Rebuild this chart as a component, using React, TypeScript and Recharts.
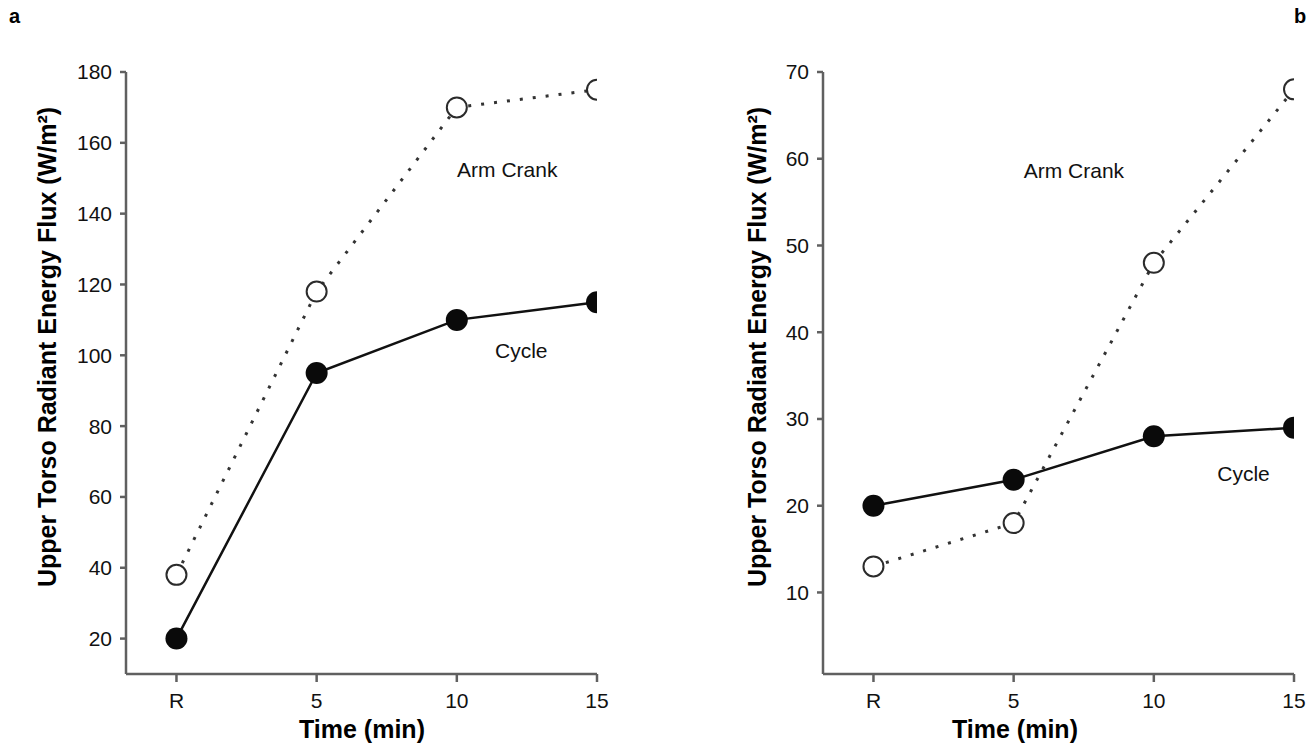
import React from "react";
import {
  LineChart,
  Line,
  XAxis,
  YAxis,
  Label,
  ReferenceDot,
} from "recharts";

const timeLabels = ["R", "5", "10", "15"];

const armCrankA = [38, 118, 170, 175];
const cycleA = [20, 95, 110, 115];
const ticksA = [20, 40, 60, 80, 100, 120, 140, 160, 180];

const armCrankB = [13, 18, 48, 68];
const cycleB = [20, 23, 28, 29];
const ticksB = [10, 20, 30, 40, 50, 60, 70];

const FONT = "'Liberation Sans', Arial, sans-serif";
const AXIS_COLOR = "#606060";
const Y_TITLE = "Upper Torso Radiant Energy Flux (W/m²)";

const buildRows = (arm: number[], cycle: number[]) =>
  timeLabels.map((_, i) => ({ x: i, arm: arm[i], cycle: cycle[i] }));

type Note = { text: string; x: number; y: number };

type PanelProps = {
  arm: number[];
  cycle: number[];
  ticks: number[];
  yDomain: [number, number];
  width: number;
  margin: { top: number; right: number; bottom: number; left: number };
  yTitleX: number;
  xTitleX: number;
  notes: Note[];
};

const OpenDot = (props: any) => {
  const { cx, cy } = props;
  if (cx == null || cy == null) return null;
  return <circle cx={cx} cy={cy} r={10} fill="#fff" stroke="#2b2b2b" strokeWidth={2} />;
};

const FilledDot = (props: any) => {
  const { cx, cy } = props;
  if (cx == null || cy == null) return null;
  return <circle cx={cx} cy={cy} r={11} fill="#0a0a0a" />;
};

const Panel: React.FC<PanelProps> = ({
  arm,
  cycle,
  ticks,
  yDomain,
  width,
  margin,
  yTitleX,
  xTitleX,
  notes,
}) => {
  const data = buildRows(arm, cycle);
  return (
    <LineChart width={width} height={747} data={data} margin={margin}>
      <XAxis
        dataKey="x"
        type="number"
        domain={[-0.36, 3]}
        ticks={[0, 1, 2, 3]}
        allowDataOverflow
        tickFormatter={(v: number) => timeLabels[v]}
        stroke={AXIS_COLOR}
        strokeWidth={2.5}
        tickSize={8}
        tickMargin={11}
        height={60}
        tick={{ fill: "#111", fontSize: 21, fontFamily: FONT }}
      >
        <Label
          content={() => (
            <text
              x={xTitleX}
              y={738}
              textAnchor="middle"
              fontFamily={FONT}
              fontWeight="bold"
              fontSize={25}
              fill="#000"
            >
              Time (min)
            </text>
          )}
        />
      </XAxis>
      <YAxis
        type="number"
        domain={yDomain}
        ticks={ticks}
        allowDataOverflow
        stroke={AXIS_COLOR}
        strokeWidth={2.5}
        tickSize={6}
        tickMargin={8}
        width={60}
        tick={{ fill: "#111", fontSize: 21, fontFamily: FONT }}
      >
        <Label
          content={() => (
            <text
              x={yTitleX}
              y={347}
              transform={`rotate(-90, ${yTitleX}, 347)`}
              textAnchor="middle"
              dominantBaseline="middle"
              fontFamily={FONT}
              fontWeight="bold"
              fontSize={25}
              fill="#000"
            >
              {Y_TITLE}
            </text>
          )}
        />
      </YAxis>
      <Line
        dataKey="arm"
        stroke="#333"
        strokeWidth={3}
        strokeDasharray="3 10"
        dot={<OpenDot />}
        activeDot={false}
        isAnimationActive={false}
      />
      <Line
        dataKey="cycle"
        stroke="#111"
        strokeWidth={2.5}
        dot={<FilledDot />}
        activeDot={false}
        isAnimationActive={false}
      />
      {notes.map((n) => (
        <ReferenceDot
          key={n.text}
          x={n.x}
          y={n.y}
          r={0}
          fill="none"
          stroke="none"
          label={{
            value: n.text,
            position: "center",
            fill: "#111",
            fontSize: 21,
            fontFamily: FONT,
          }}
        />
      ))}
    </LineChart>
  );
};

const App: React.FC = () => {
  return (
    <div
      style={{
        position: "absolute",
        left: 0,
        top: 0,
        width: 1312,
        height: 747,
        background: "#fff",
        fontFamily: FONT,
      }}
    >
      <div style={{ position: "absolute", left: 0, top: 0 }}>
        <Panel
          arm={armCrankA}
          cycle={cycleA}
          ticks={ticksA}
          yDomain={[10, 180]}
          width={660}
          margin={{ top: 72, right: 63, bottom: 13, left: 66 }}
          yTitleX={49}
          xTitleX={362}
          notes={[
            { text: "Arm Crank", x: 2.36, y: 152.5 },
            { text: "Cycle", x: 2.46, y: 101.2 },
          ]}
        />
      </div>
      <div style={{ position: "absolute", left: 700, top: 0 }}>
        <Panel
          arm={armCrankB}
          cycle={cycleB}
          ticks={ticksB}
          yDomain={[0.6, 70]}
          width={612}
          margin={{ top: 72, right: 18, bottom: 13, left: 63 }}
          yTitleX={59}
          xTitleX={315}
          notes={[
            { text: "Arm Crank", x: 1.43, y: 58.6 },
            { text: "Cycle", x: 2.64, y: 23.7 },
          ]}
        />
      </div>
      <div style={{ position: "absolute", left: 9, top: 6, fontWeight: "bold", fontSize: 20, lineHeight: "20px" }}>a</div>
      <div style={{ position: "absolute", left: 1294, top: 6, fontWeight: "bold", fontSize: 20, lineHeight: "20px" }}>b</div>
    </div>
  );
};

export default App;
